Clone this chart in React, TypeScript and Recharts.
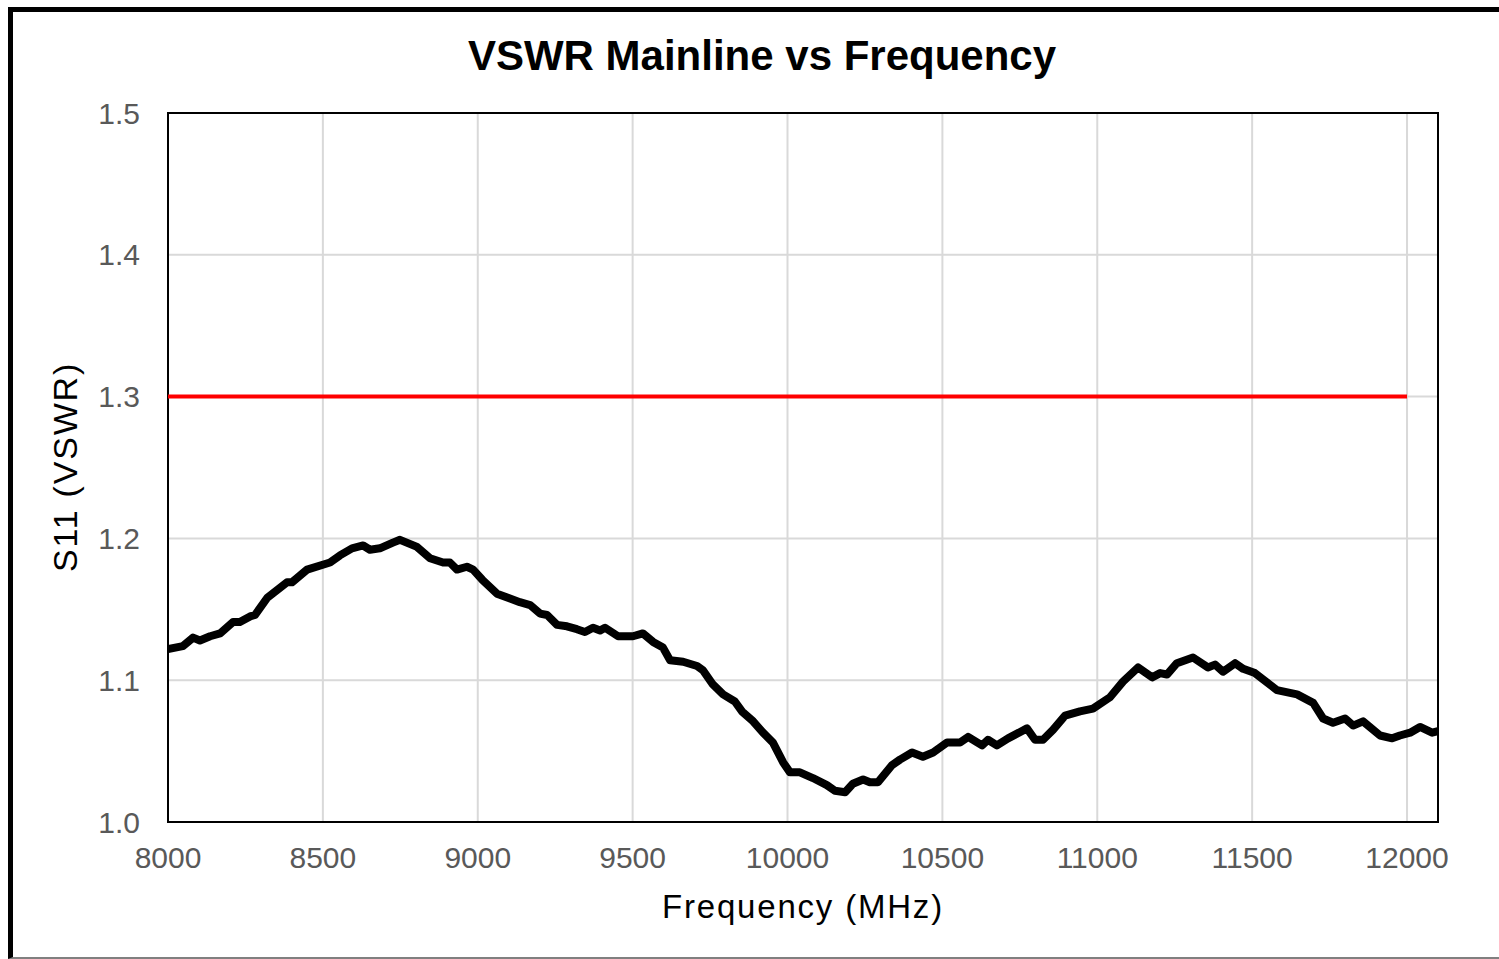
import React from 'react';
import { LineChart, Line, XAxis, YAxis, CartesianGrid, ReferenceArea } from 'recharts';

// measured S11 trace
const freqMHz = [
  8000, 8048, 8081, 8103, 8136, 8168, 8210, 8232, 8265, 8281, 8320, 8384, 8400, 8449, 8523, 8555, 8594,
  8630, 8652, 8684, 8726, 8749, 8804, 8846, 8888, 8910, 8933, 8965, 8985, 9014, 9062, 9136, 9169, 9201,
  9224, 9256, 9288, 9320, 9346, 9372, 9395, 9411, 9453, 9501, 9533, 9566, 9598, 9621, 9663, 9708, 9727,
  9759, 9792, 9830, 9853, 9889, 9921, 9953, 9986, 10008, 10040, 10082, 10127, 10153, 10186, 10211, 10244,
  10266, 10292, 10337, 10363, 10402, 10437, 10470, 10515, 10557, 10583, 10628, 10647, 10676, 10712, 10773,
  10799, 10825, 10857, 10896, 10944, 10986, 11041, 11083, 11132, 11177, 11203, 11225, 11257, 11309, 11357,
  11380, 11406, 11445, 11471, 11509, 11580, 11645, 11697, 11729, 11761, 11800, 11826, 11858, 11913, 11952,
  11977, 12010, 12042, 12081, 12100,
];
const vswr = [
  1.122, 1.124, 1.13, 1.128, 1.131, 1.133, 1.141, 1.141, 1.145, 1.146, 1.158, 1.169, 1.169, 1.178, 1.183,
  1.188, 1.193, 1.195, 1.192, 1.193, 1.197, 1.199, 1.194, 1.186, 1.183, 1.183, 1.178, 1.18, 1.178, 1.171,
  1.161, 1.155, 1.153, 1.147, 1.146, 1.139, 1.138, 1.136, 1.134, 1.137, 1.135, 1.137, 1.131, 1.131, 1.133,
  1.127, 1.123, 1.114, 1.113, 1.11, 1.107, 1.097, 1.09, 1.085, 1.078, 1.071, 1.063, 1.056, 1.042, 1.035,
  1.035, 1.031, 1.026, 1.022, 1.021, 1.027, 1.03, 1.028, 1.028, 1.04, 1.044, 1.049, 1.046, 1.049, 1.056,
  1.056, 1.06, 1.054, 1.058, 1.054, 1.059, 1.066, 1.058, 1.058, 1.065, 1.075, 1.078, 1.08, 1.088, 1.099,
  1.109, 1.102, 1.105, 1.104, 1.112, 1.116, 1.109, 1.111, 1.106, 1.112, 1.108, 1.105, 1.093, 1.09, 1.084,
  1.073, 1.07, 1.073, 1.068, 1.071, 1.061, 1.059, 1.061, 1.063, 1.067, 1.063, 1.064,
];

// spec limit
const limitFreq = [8000, 12000];
const limitVswr = [1.3, 1.3];

const xTicks = [8000, 8500, 9000, 9500, 10000, 10500, 11000, 11500, 12000];
const yTicks = [1.0, 1.1, 1.2, 1.3, 1.4, 1.5];

const FONT = '"Liberation Sans", Arial, sans-serif';

export default function App() {
  const trace = freqMHz.map((f, i) => ({ freq: f, vswr: vswr[i] }));
  const limit = limitFreq.map((f, i) => ({ freq: f, vswr: limitVswr[i] }));

  const tickStyle = { fill: '#595959', fontSize: 30, fontFamily: FONT };

  return (
    <div style={{ position: 'relative', width: 1499, height: 959, overflow: 'hidden', background: '#fff' }}>
      <style>{`body{margin:0;overflow:hidden}`}</style>
      <div
        style={{
          position: 'absolute',
          left: 8,
          top: 7,
          width: 1600,
          height: 945,
          borderLeft: '5px solid #000',
          borderTop: '5px solid #000',
          borderBottom: '2px solid #808080',
        }}
      />
      <div style={{ position: 'absolute', left: 0, top: 0 }}>
        <LineChart width={1499} height={959} margin={{ top: 113, right: 61, bottom: 107, left: 108 }}>
          <CartesianGrid stroke="#d9d9d9" strokeWidth={2} />
          <XAxis
            dataKey="freq"
            type="number"
            domain={[8000, 12100]}
            ticks={xTicks}
            allowDataOverflow
            height={30}
            axisLine={false}
            tickLine={false}
            tickSize={0}
            tickMargin={25}
            tick={tickStyle}
          />
          <YAxis
            type="number"
            domain={[1.0, 1.5]}
            ticks={yTicks}
            allowDataOverflow
            width={60}
            axisLine={false}
            tickLine={false}
            tickSize={0}
            tickMargin={28}
            tick={tickStyle}
            tickFormatter={(v: number) => v.toFixed(1)}
          />
          <ReferenceArea x1={8000} x2={12100} y1={1.0} y2={1.5} fill="none" stroke="#000" strokeWidth={2} ifOverflow="visible" />
          <Line
            data={limit}
            dataKey="vswr"
            type="linear"
            stroke="#ff0000"
            strokeWidth={4}
            dot={false}
            isAnimationActive={false}
          />
          <Line
            data={trace}
            dataKey="vswr"
            type="linear"
            stroke="#000"
            strokeWidth={8}
            strokeLinejoin="round"
            dot={false}
            isAnimationActive={false}
          />
        </LineChart>
      </div>
      <svg
        width={1499}
        height={959}
        style={{ position: 'absolute', left: 0, top: 0, pointerEvents: 'none' }}
      >
        <text x={762} y={70} textAnchor="middle" fontFamily={FONT} fontWeight="bold" fontSize={42} fill="#000">
          VSWR Mainline vs Frequency
        </text>
        <text
          x={803}
          y={918}
          textAnchor="middle"
          fontFamily={FONT}
          fontSize={33}
          letterSpacing={1.8}
          fill="#000"
        >
          Frequency (MHz)
        </text>
        <text
          x={77}
          y={467}
          textAnchor="middle"
          fontFamily={FONT}
          fontSize={34}
          letterSpacing={1.8}
          fill="#000"
          transform="rotate(-90 77 467)"
        >
          S11 (VSWR)
        </text>
      </svg>
    </div>
  );
}
